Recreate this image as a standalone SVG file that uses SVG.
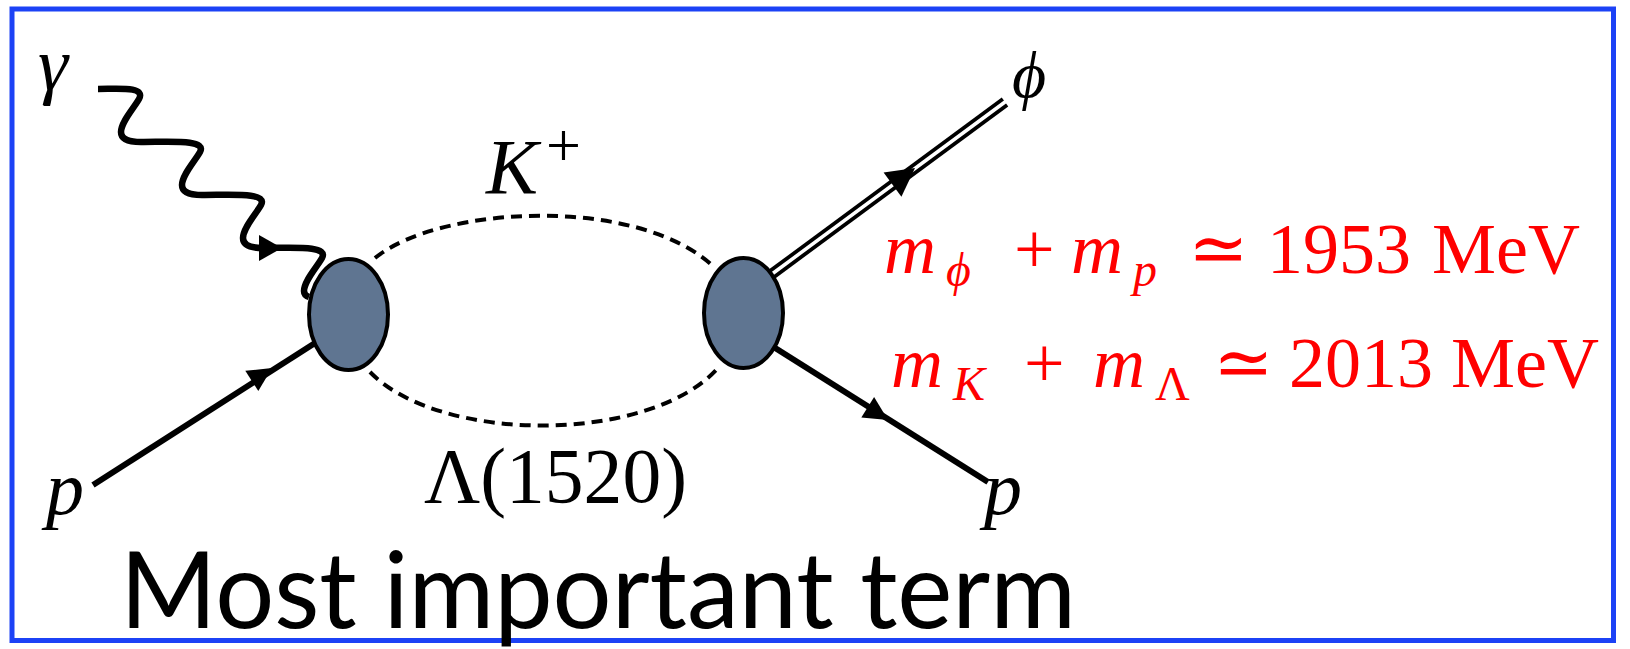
<svg xmlns="http://www.w3.org/2000/svg" width="1630" height="649" viewBox="0 0 1630 649">
<style>
.frame{fill:none;stroke:#1c42f6;stroke-width:5}
.line{fill:none;stroke:#000;stroke-width:6;stroke-linecap:butt}
.photon{fill:none;stroke:#000;stroke-width:6.5;stroke-linejoin:round}
.dash{fill:none;stroke:#000;stroke-width:4;stroke-dasharray:11 7}
.arrow{fill:#000;stroke:none}
.blob{fill:#5f7591;stroke:#000;stroke-width:4}
.math{font-family:"Liberation Serif","DejaVu Serif",serif;fill:#000}
.it{font-style:italic}
.red{font-family:"Liberation Serif","DejaVu Serif",serif;fill:#ff0000;font-size:72px}
.sub{font-size:48px}
.sym{font-family:"DejaVu Serif","Liberation Serif",serif}
.title{font-family:Lato,"Open Sans",sans-serif;font-size:106px;fill:#000}
</style>
<rect class="frame" x="12" y="9" width="1601.5" height="631.5"/>
<g id="connectors">
  <path class="photon" d="M98,89 c20,0 48,-3 41,10 c-5,9 -18,23 -18,33 c0,7 8,10 20,10 c30,0 66,-3 59,10 c-5,9 -18,23 -18,33 c0,7 8,10 20,10 c30,0 66,-3 59,10 c-5,9 -18,23 -18,33 c0,7 8,10 20,10 c30,0 66,-3 59,10 c-5,9 -18,23 -18,33 c0,3 2,5 5,6"/>
  <polygon class="arrow" points="259,235 259,261 282,248"/>
  <line class="line" x1="93" y1="485" x2="315" y2="343"/>
  <polygon class="arrow" points="272,368 245.3,370.8 258.3,391"/>
  <line class="line" x1="772" y1="346" x2="988" y2="482"/>
  <polygon class="arrow" points="888,420 861.3,417.4 874.1,397"/>
  <line x1="772" y1="274" x2="1005" y2="102" stroke="#000" stroke-width="11"/>
  <line x1="772" y1="274" x2="1007" y2="100.5" stroke="#fff" stroke-width="3.5"/>
  <polygon class="arrow" points="915,168 901.4,196.7 883.6,172.5"/>
  <path class="dash" d="M375,258 C440,205 640,195 715,268"/>
  <path class="dash" d="M370,372 C440,444 650,444 718,368"/>
</g>
<g id="vertex-left"><ellipse class="blob" cx="348.5" cy="314.5" rx="39.5" ry="55.5"/></g>
<g id="vertex-right"><ellipse class="blob" cx="743.5" cy="313" rx="39.5" ry="55"/></g>
<g id="label-gamma"><text class="math it" x="38" y="90" font-size="76">γ</text></g>
<g id="label-p-in"><text class="math it" x="46" y="514" font-size="76">p</text></g>
<g id="label-p-out"><text class="math it" x="984" y="514" font-size="76">p</text></g>
<g id="label-phi"><text class="math it" x="1012" y="97" font-size="66">ϕ</text></g>
<g id="label-K"><text class="math" y="193" font-size="78"><tspan class="it" x="486">K</tspan><tspan x="546" y="166" font-size="62">+</tspan></text></g>
<g id="label-Lambda"><text class="math" x="424" y="502" font-size="78" textLength="263" lengthAdjust="spacingAndGlyphs">Λ(1520)</text></g>
<g id="mass1">
  <text class="red" y="273"><tspan class="it" x="884">m</tspan><tspan class="it sub" x="946" y="286">ϕ</tspan><tspan x="1014" y="273">+</tspan><tspan class="it" x="1071">m</tspan><tspan class="it sub" x="1133" y="286">p</tspan><tspan class="sym" x="1188" y="273">≃</tspan><tspan x="1267">1953</tspan><tspan x="1432">MeV</tspan></text>
</g>
<g id="mass2">
  <text class="red" y="387"><tspan class="it" x="891">m</tspan><tspan class="it sub" x="953" y="400">K</tspan><tspan x="1024" y="387">+</tspan><tspan class="it" x="1093">m</tspan><tspan class="sub" x="1155" y="400">Λ</tspan><tspan class="sym" x="1213" y="387">≃</tspan><tspan x="1289">2013</tspan><tspan x="1451">MeV</tspan></text>
</g>
<g id="title"><text class="title" x="120" y="628" textLength="956" lengthAdjust="spacingAndGlyphs">Most important term</text></g>
</svg>
